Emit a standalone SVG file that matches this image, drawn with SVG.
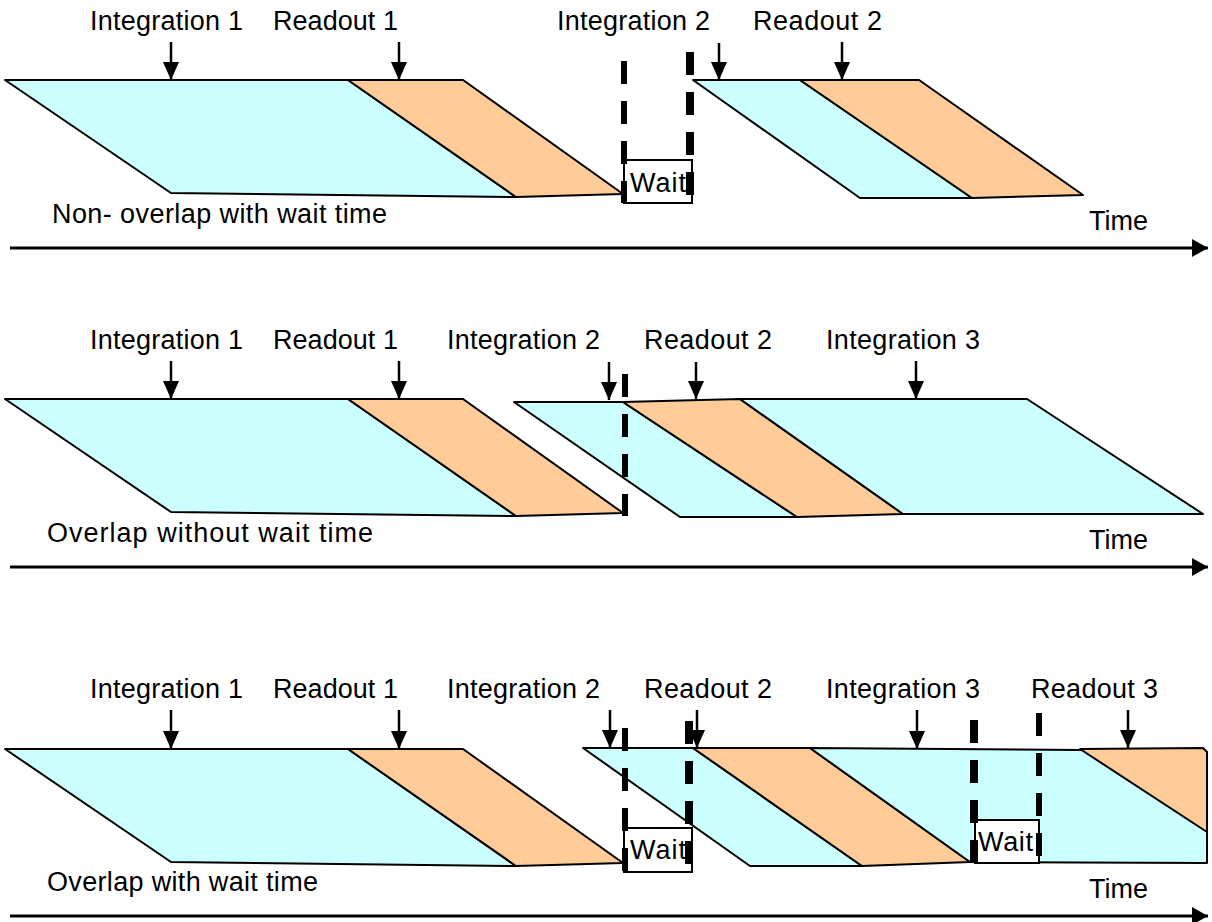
<svg xmlns="http://www.w3.org/2000/svg" width="1212" height="922" viewBox="0 0 1212 922">
<style>
text{font-family:"Liberation Sans",Arial,sans-serif;font-size:27px;fill:#000}
.c{fill:#CCFFFF;stroke:#000;stroke-width:2;stroke-linejoin:round}
.o{fill:#FFCC99;stroke:#000;stroke-width:2;stroke-linejoin:round}
.wb{fill:#fff;stroke:#000;stroke-width:2}
.d{stroke:#000;stroke-width:6;stroke-dasharray:23 17;fill:none}
.dt{stroke:#000;stroke-width:8;stroke-dasharray:23 17;fill:none}
.ar{stroke:#000;stroke-width:2.5;fill:none;marker-end:url(#ah)}
.ax{stroke:#000;stroke-width:3;fill:none;marker-end:url(#ax)}
</style>
<defs>
<marker id="ah" markerUnits="userSpaceOnUse" markerWidth="18" markerHeight="16" refX="18" refY="8" orient="auto"><path d="M0,0 L18,8 L0,16 z" fill="#000"/></marker>
<marker id="ax" markerUnits="userSpaceOnUse" markerWidth="16" markerHeight="18" refX="16" refY="9" orient="auto"><path d="M0,0 L16,9 L0,18 z" fill="#000"/></marker>
</defs>

<!-- Row 1: Non-overlap with wait time -->
<g id="row1">
<g id="r1-int1"><polygon class="c" points="5,80 348,80 516,197 171,193"/></g>
<g id="r1-read1"><polygon class="o" points="348,80 463,80 623,194 516,197"/></g>
<g id="r1-int2"><polygon class="c" points="693,80 800,80 972,198 860,198"/></g>
<g id="r1-read2"><polygon class="o" points="800,80 919,80 1083,195 972,198"/></g>
<g id="r1-wait"><rect class="wb" x="624" y="160" width="68" height="43"/><text x="630" y="192" textLength="56" lengthAdjust="spacing">Wait</text></g>
<g id="r1-labels">
<text x="90" y="30" textLength="153" lengthAdjust="spacing">Integration 1</text>
<text x="273" y="30" textLength="125" lengthAdjust="spacing">Readout 1</text>
<text x="557" y="30" textLength="153" lengthAdjust="spacing">Integration 2</text>
<text x="753" y="30" textLength="129" lengthAdjust="spacing">Readout 2</text>
<text x="52" y="223" textLength="335" lengthAdjust="spacing">Non- overlap with wait time</text>
<text x="1089" y="230" textLength="59" lengthAdjust="spacing">Time</text>
</g>
</g>

<!-- Row 2: Overlap without wait time -->
<g id="row2">
<g id="r2-int1"><polygon class="c" points="5,399 348,399 516,516 171,512"/></g>
<g id="r2-read1"><polygon class="o" points="348,399 463,399 623,513 516,516"/></g>
<g id="r2-int2"><polygon class="c" points="514,402 623,402 797,517 680,517"/></g>
<g id="r2-read2"><polygon class="o" points="623,402 740,399 903,514 797,517"/></g>
<g id="r2-int3"><polygon class="c" points="740,399 1027,399 1203,514 903,514"/></g>
<g id="r2-labels">
<text x="90" y="349" textLength="153" lengthAdjust="spacing">Integration 1</text>
<text x="273" y="349" textLength="125" lengthAdjust="spacing">Readout 1</text>
<text x="447" y="349" textLength="153" lengthAdjust="spacing">Integration 2</text>
<text x="644" y="349" textLength="128" lengthAdjust="spacing">Readout 2</text>
<text x="826" y="349" textLength="154" lengthAdjust="spacing">Integration 3</text>
<text x="47" y="542" textLength="326" lengthAdjust="spacing">Overlap without wait time</text>
<text x="1089" y="549" textLength="59" lengthAdjust="spacing">Time</text>
</g>
</g>

<!-- Row 3: Overlap with wait time -->
<g id="row3">
<g id="r3-int1"><polygon class="c" points="5,749 348,749 516,866 171,862"/></g>
<g id="r3-read1"><polygon class="o" points="348,749 463,749 623,863 516,866"/></g>
<g id="r3-int2"><polygon class="c" points="583,748 693,748 862,866 750,866"/></g>
<g id="r3-read2"><polygon class="o" points="693,748 810,748 970,862 862,866"/></g>
<g id="r3-int3"><polygon class="c" points="810,748 1080,750 1207,752 1207,863 970,862"/></g>
<g id="r3-read3"><polygon class="o" points="1080,749 1203,748 1207,752 1207,832"/></g>
<g id="r3-wait1"><rect class="wb" x="624" y="828" width="68" height="44"/><text x="630" y="859" textLength="56" lengthAdjust="spacing">Wait</text></g>
<g id="r3-wait2"><rect class="wb" x="975" y="820" width="64" height="43"/><text x="978" y="851" textLength="55" lengthAdjust="spacing">Wait</text></g>
<g id="r3-labels">
<text x="90" y="698" textLength="153" lengthAdjust="spacing">Integration 1</text>
<text x="273" y="698" textLength="125" lengthAdjust="spacing">Readout 1</text>
<text x="447" y="698" textLength="153" lengthAdjust="spacing">Integration 2</text>
<text x="644" y="698" textLength="128" lengthAdjust="spacing">Readout 2</text>
<text x="826" y="698" textLength="154" lengthAdjust="spacing">Integration 3</text>
<text x="1031" y="698" textLength="127" lengthAdjust="spacing">Readout 3</text>
<text x="47" y="891" textLength="271" lengthAdjust="spacing">Overlap with wait time</text>
<text x="1089" y="898" textLength="59" lengthAdjust="spacing">Time</text>
</g>
</g>

<!-- Connectors: pointer arrows, dashed markers, time axes -->
<g id="connectors">
<line class="ar" x1="171" y1="42" x2="171" y2="80"/>
<line class="ar" x1="399" y1="42" x2="399" y2="80"/>
<line class="ar" x1="719" y1="43" x2="719" y2="80"/>
<line class="ar" x1="842" y1="42" x2="842" y2="80"/>

<line class="ar" x1="171" y1="361" x2="171" y2="399"/>
<line class="ar" x1="399" y1="361" x2="399" y2="399"/>
<line class="ar" x1="609" y1="362" x2="609" y2="400"/>
<line class="ar" x1="696" y1="362" x2="696" y2="399"/>
<line class="ar" x1="916" y1="361" x2="916" y2="399"/>

<line class="ar" x1="171" y1="710" x2="171" y2="749"/>
<line class="ar" x1="399" y1="710" x2="399" y2="749"/>
<line class="ar" x1="610" y1="710" x2="610" y2="748"/>
<line class="ar" x1="697" y1="710" x2="697" y2="748"/>
<line class="ar" x1="917" y1="710" x2="917" y2="749"/>
<line class="ar" x1="1128" y1="710" x2="1128" y2="748"/>

<line class="d" x1="624" y1="61" x2="624" y2="203"/>
<line class="dt" x1="690" y1="52" x2="690" y2="195"/>
<line class="d" x1="625" y1="374" x2="625" y2="516"/>
<line class="d" x1="625" y1="728" x2="625" y2="872"/>
<line class="dt" x1="689" y1="721" x2="689" y2="870"/>
<line class="dt" x1="974" y1="720" x2="974" y2="863"/>
<line class="d" x1="1039" y1="713" x2="1039" y2="858"/>

<line class="ax" x1="10" y1="248" x2="1208" y2="248"/>
<line class="ax" x1="10" y1="567" x2="1208" y2="567"/>
<line class="ax" x1="10" y1="916" x2="1208" y2="916"/>
</g>
</svg>
